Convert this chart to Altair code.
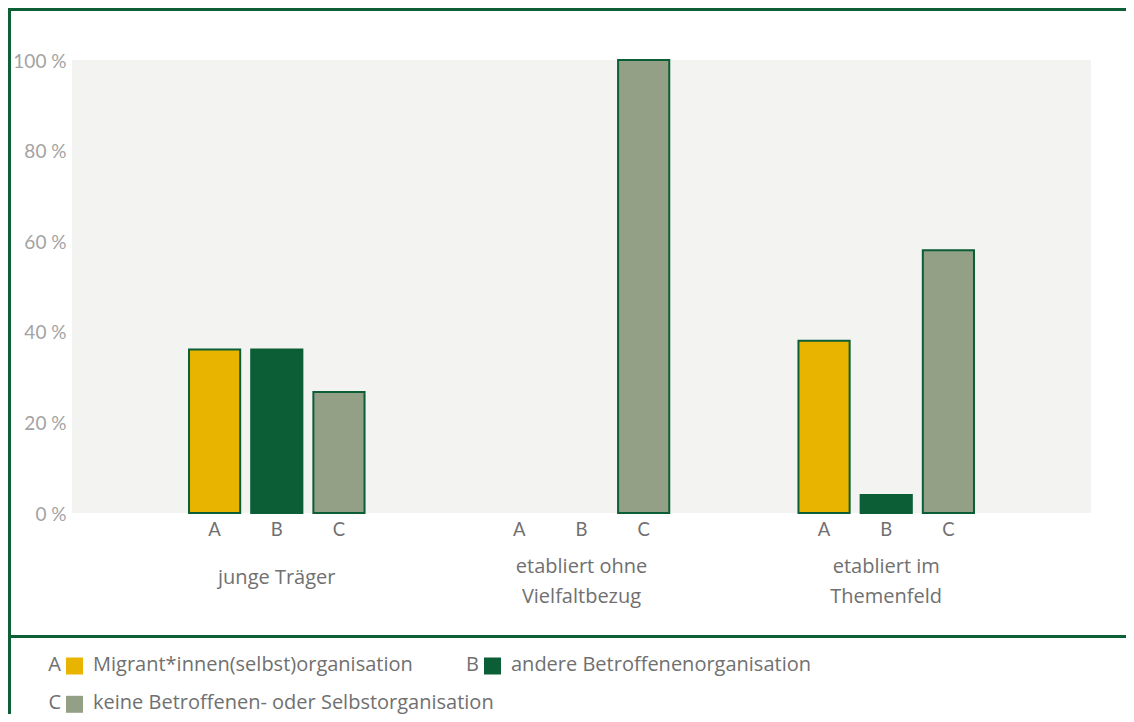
import altair as alt
import pandas as pd

# ---- data ----
groups = ["junge Träger", "etabliert ohne|Vielfaltbezug", "etabliert im|Themenfeld"]
series = ["A", "B", "C"]
series_labels = [
    "Migrant*innen(selbst)organisation",
    "andere Betroffenenorganisation",
    "keine Betroffenen- oder Selbstorganisation",
]
colors = ["#e8b400", "#0b5e35", "#93a086"]
values_A = [36.1, 0, 38.0]
values_B = [36.1, 0, 4.0]
values_C = [26.7, 100, 58.0]
y_ticks = [0, 20, 40, 60, 80, 100]

# ---- styling / layout ----
FONT = "Lato"
TFONT = "Open Sans"
GREEN = "#0d5f36"
W, H = 1019, 453

rows = []
for s, vals in zip(series, [values_A, values_B, values_C]):
    for g, v in zip(groups, vals):
        rows.append({"group": g, "series": s, "value": v})
df = pd.DataFrame(rows)

x_scale = alt.Scale(paddingInner=0.424, paddingOuter=0.384)
x_enc = alt.X(
    "group:N",
    sort=groups,
    scale=x_scale,
    axis=alt.Axis(
        title=None,
        labels=False,
        ticks=False,
        tickSize=0,
        domainColor="#c6c6c6",
        domainWidth=3,
        grid=False,
        zindex=1,
    ),
)
xoff_enc = alt.XOffset(
    "series:N", sort=series, scale=alt.Scale(paddingInner=0.177, paddingOuter=0)
)

bars = (
    alt.Chart(df)
    .transform_filter("datum.value > 0")
    .mark_bar(stroke="#0b5e35", strokeWidth=2)
    .encode(
        x=x_enc,
        xOffset=xoff_enc,
        y=alt.Y(
            "value:Q",
            scale=alt.Scale(domain=[0, 100], nice=False),
            axis=alt.Axis(
                title=None,
                values=y_ticks,
                labelExpr="datum.value + ' %'",
                labelFont=FONT,
                labelFontSize=19,
                labelColor="#a3a3a3",
                labelPadding=6,
                labelOffset=1,
                ticks=False,
                domain=False,
                grid=False,
            ),
        ),
        color=alt.Color(
            "series:N", scale=alt.Scale(domain=series, range=colors), legend=None
        ),
    )
)

letters = (
    alt.Chart(df)
    .mark_text(font=FONT, fontSize=18.5, color="#707070", baseline="middle")
    .encode(x=x_enc, xOffset=xoff_enc, y=alt.value(H + 17), text="series:N")
)

# group labels (multi-line)
LH = 30
glab_df = pd.DataFrame(
    {
        "group": groups,
        "gy": [H + 65 - (g.count("|")) * 11 for g in groups],
    }
)
group_labels = (
    alt.Chart(glab_df)
    .mark_text(
        font=TFONT, fontSize=20, color="#707070", baseline="middle",
        lineBreak="|", lineHeight=LH,
    )
    .encode(
        x=alt.X("group:N", sort=groups, scale=x_scale, axis=None),
        y=alt.Y("gy:Q", scale=None),
        text="group:N",
    )
)

# frame boxes
frame_df = pd.DataFrame({"k": [0]})
frame_top = (
    alt.Chart(frame_df)
    .mark_rect(fill="transparent", stroke=GREEN, strokeWidth=3)
    .encode(
        x=alt.value(-62.5), x2=alt.value(W + 60), y=alt.value(-50.5), y2=alt.value(576.5)
    )
)
frame_bottom = (
    alt.Chart(frame_df)
    .mark_rect(fill="transparent", stroke=GREEN, strokeWidth=3)
    .encode(
        x=alt.value(-62.5), x2=alt.value(W + 60), y=alt.value(576.5), y2=alt.value(800)
    )
)

# legend (layout computed here)
col_anchor = [-6, 412]
row_y = [604.5, 642.8]
leg_rows = []
for i, (s, lab, c) in enumerate(zip(series, series_labels, colors)):
    ax = col_anchor[i % 2]
    ry = row_y[i // 2]
    leg_rows.append(
        {"series": s, "label": lab, "lx": ax - 5, "sx": ax + 8.5, "tx": ax + 27,
         "ly": ry, "sy": ry + 1.5}
    )
leg_df = pd.DataFrame(leg_rows)

leg_letter = (
    alt.Chart(leg_df)
    .mark_text(font=TFONT, fontSize=20, color="#707070", align="right", baseline="middle")
    .encode(x=alt.X("lx:Q", scale=None), y=alt.Y("ly:Q", scale=None), text="series:N")
)
leg_square = (
    alt.Chart(leg_df)
    .mark_square(size=289, opacity=1)
    .encode(
        x=alt.X("sx:Q", scale=None),
        y=alt.Y("sy:Q", scale=None),
        color=alt.Color(
            "series:N", scale=alt.Scale(domain=series, range=colors), legend=None
        ),
    )
)
leg_text = (
    alt.Chart(leg_df)
    .mark_text(font=TFONT, fontSize=20, color="#707070", align="left", baseline="middle")
    .encode(x=alt.X("tx:Q", scale=None), y=alt.Y("ly:Q", scale=None), text="label:N")
)

chart = (
    alt.layer(bars, letters, group_labels, frame_top, frame_bottom,
              leg_letter, leg_square, leg_text)
    .properties(
        width=W,
        height=H,
        autosize=alt.AutoSizeParams(type="none"),
        padding={"left": 64, "top": 52, "right": 35, "bottom": 201},
        background="white",
    )
    .configure_view(fill="#f3f3f2", stroke=None)
)

chart.save("out.html", embed_options={"renderer": "svg", "actions": False})
